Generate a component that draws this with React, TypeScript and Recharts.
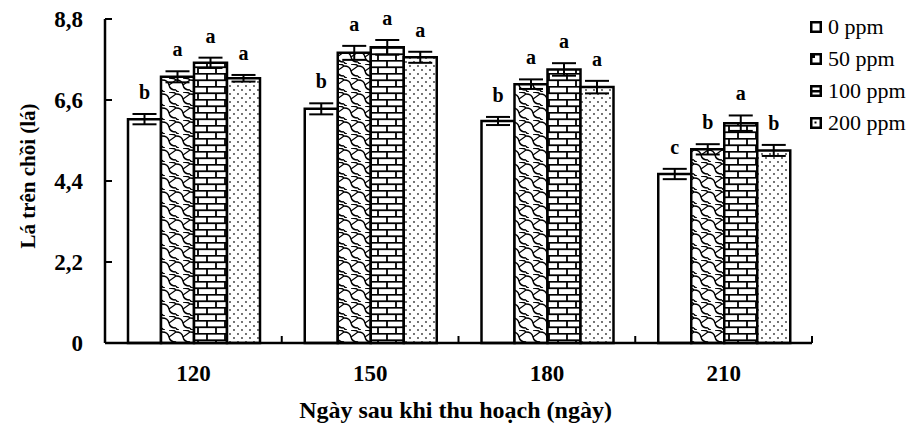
import React from 'react';
import { BarChart, Bar, XAxis, YAxis, ErrorBar, LabelList, Legend, Label } from 'recharts';

const categories = ['120', '150', '180', '210'];
const ppm0 = [6.08, 6.36, 6.03, 4.59];
const err0 = [0.14, 0.15, 0.11, 0.14];
const ppm50 = [7.23, 7.88, 7.03, 5.26];
const err50 = [0.15, 0.19, 0.13, 0.14];
const ppm100 = [7.61, 8.03, 7.43, 5.97];
const err100 = [0.14, 0.2, 0.17, 0.21];
const ppm200 = [7.19, 7.76, 6.95, 5.23];
const err200 = [0.09, 0.15, 0.17, 0.15];
const letters0 = ['b', 'b', 'b', 'c'];
const letters50 = ['a', 'a', 'a', 'b'];
const letters100 = ['a', 'a', 'a', 'a'];
const letters200 = ['a', 'a', 'a', 'b'];
const yTicks = [0, 2.2, 4.4, 6.6, 8.8];
const seriesNames = ['0 ppm', '50 ppm', '100 ppm', '200 ppm'];

const data = categories.map((c, i) => ({
  cat: c,
  p0: ppm0[i], e0: err0[i],
  p50: ppm50[i], e50: err50[i],
  p100: ppm100[i], e100: err100[i],
  p200: ppm200[i], e200: err200[i],
}));

const FONT = '"Liberation Serif", "Times New Roman", serif';
const W = 907;
const H = 418;
const M = { top: 11, right: 103, left: 0, bottom: 0 };
const Y_W = 97;
const X_H = 83;
const PLOT_W = W - M.left - M.right - Y_W;
const HALF_BAND = PLOT_W / categories.length / 2;
const Y_MARGIN = 22;
const X_MARGIN = 22;

const makeLetterLabel = (letters: string[], errs: number[]) => (props: any) => {
  const { x, y, width, height, value, index } = props;
  const pxPerUnit = value ? height / value : 0;
  const top = y - errs[index] * pxPerUnit;
  return (
    <text x={x + width / 2} y={top - 15} textAnchor="middle" fontFamily={FONT} fontWeight="bold" fontSize={20} fill="#000">
      {letters[index]}
    </text>
  );
};

const YTick = (props: any) => {
  const { x, y, payload } = props;
  const ax = x + Y_MARGIN;
  return (
    <g>
      {payload.value !== 0 && <line x1={ax} x2={ax + 7} y1={y} y2={y} stroke="#000" strokeWidth={2} />}
      <text x={x} y={y} textAnchor="end" dominantBaseline="central" fontFamily={FONT} fontWeight="bold" fontSize={23} fill="#000">
        {String(payload.value).replace('.', ',')}
      </text>
    </g>
  );
};

const XTick = (props: any) => {
  const { x, y, payload } = props;
  const ay = y - X_MARGIN;
  return (
    <g>
      <line x1={x + HALF_BAND} x2={x + HALF_BAND} y1={ay} y2={ay - 7} stroke="#000" strokeWidth={2} />
      <text x={x} y={y} dy="0.71em" textAnchor="middle" fontFamily={FONT} fontWeight="bold" fontSize={23} fill="#000">
        {payload.value}
      </text>
    </g>
  );
};

const LegendIcon = ({ i }: { i: number }) => (
  <svg width={12} height={12} style={{ display: 'block', flex: 'none' }}>
    <rect x={1.25} y={1.25} width={9.5} height={9.5} fill="#fff" stroke="#000" strokeWidth={2.5} />
    {i === 1 && <rect x={2} y={2} width={3} height={3} fill="#000" />}
    {i === 2 && <rect x={2} y={5} width={8} height={2.5} fill="#000" />}
    {i === 3 && <rect x={4.5} y={4.5} width={2} height={2} fill="#000" />}
  </svg>
);

const LegendContent = () => (
  <div style={{ fontFamily: FONT, fontSize: 22, color: '#000' }}>
    {seriesNames.map((n, i) => (
      <div key={n} style={{ display: 'flex', alignItems: 'center', height: 32, whiteSpace: 'nowrap' }}>
        <LegendIcon i={i} />
        <span style={{ marginLeft: 6 }}>{n}</span>
      </div>
    ))}
  </div>
);

export default function App() {
  return (
    <div style={{ width: W, height: H, position: 'relative' }}>
      <BarChart width={W} height={H} data={data} margin={M} barCategoryGap={23} barGap={0}>
        <defs>
          <pattern id="scales" patternUnits="userSpaceOnUse" width="14" height="14">
            <rect width="14" height="14" fill="#fff" />
            <path d="M0 2 Q6 2 7 7 Q8 12 14 12" fill="none" stroke="#000" strokeWidth="1.4" />
            <path d="M7 0 Q13 0 14 2 M0 12 Q1 14 3 14" fill="none" stroke="#000" strokeWidth="1.4" />
            <path d="M7 7 Q10 5 14 2" fill="none" stroke="#000" strokeWidth="1.2" />
          </pattern>
          <pattern id="bricks" patternUnits="userSpaceOnUse" width="18" height="13">
            <rect width="18" height="13" fill="#fff" />
            <line x1="0" x2="18" y1="0.75" y2="0.75" stroke="#000" strokeWidth="1.8" />
            <line x1="0" x2="18" y1="7.25" y2="7.25" stroke="#000" strokeWidth="1.8" />
            <line x1="1" x2="1" y1="0" y2="7" stroke="#000" strokeWidth="1.8" />
            <line x1="10" x2="10" y1="7" y2="13" stroke="#000" strokeWidth="1.8" />
          </pattern>
          <pattern id="dots" patternUnits="userSpaceOnUse" width="8" height="8">
            <rect width="8" height="8" fill="#fff" />
            <circle cx="2" cy="2" r="0.9" fill="#333" />
            <circle cx="6" cy="6" r="0.9" fill="#333" />
          </pattern>
        </defs>
        <XAxis
          dataKey="cat"
          height={X_H}
          axisLine={{ stroke: '#000', strokeWidth: 2.5 }}
          tickLine={false}
          tickSize={0}
          tickMargin={X_MARGIN}
          tick={<XTick />}
          interval={0}
        >
          <Label
            content={(p: any) => {
              const vb = p.viewBox;
              return (
                <text x={vb.x + vb.width / 2 - 3} y={vb.y + 67} textAnchor="middle" dominantBaseline="central" fontFamily={FONT} fontWeight="bold" fontSize={24} fill="#000">
                  Ngày sau khi thu hoạch (ngày)
                </text>
              );
            }}
          />
        </XAxis>
        <YAxis
          width={Y_W}
          domain={[0, 8.8]}
          ticks={yTicks}
          axisLine={{ stroke: '#000', strokeWidth: 2.5 }}
          tickLine={false}
          tickSize={0}
          tickMargin={Y_MARGIN}
          tick={<YTick />}
          interval={0}
        >
          <Label
            content={(p: any) => {
              const vb = p.viewBox;
              const cx = 20;
              const cy = vb.y + vb.height / 2 - 5;
              return (
                <text x={cx} y={cy} transform={`rotate(-90, ${cx}, ${cy})`} textAnchor="middle" dominantBaseline="central" fontFamily={FONT} fontWeight="bold" fontSize={21} fill="#000">
                  Lá trên chồi (lá)
                </text>
              );
            }}
          />
        </YAxis>
        <Legend
          layout="horizontal"
          verticalAlign="middle"
          align="center"
          content={<LegendContent />}
          wrapperStyle={{ position: 'absolute', left: 802, top: 3, width: 105 }}
        />
        <Bar dataKey="p0" name="0 ppm" fill="#fff" stroke="#000" strokeWidth={2.5} isAnimationActive={false}>
          <ErrorBar dataKey="e0" width={12} stroke="#000" strokeWidth={2} />
          <LabelList dataKey="p0" content={makeLetterLabel(letters0, err0)} />
        </Bar>
        <Bar dataKey="p50" name="50 ppm" fill="url(#scales)" stroke="#000" strokeWidth={2.5} isAnimationActive={false}>
          <ErrorBar dataKey="e50" width={12} stroke="#000" strokeWidth={2} />
          <LabelList dataKey="p50" content={makeLetterLabel(letters50, err50)} />
        </Bar>
        <Bar dataKey="p100" name="100 ppm" fill="url(#bricks)" stroke="#000" strokeWidth={2.5} isAnimationActive={false}>
          <ErrorBar dataKey="e100" width={12} stroke="#000" strokeWidth={2} />
          <LabelList dataKey="p100" content={makeLetterLabel(letters100, err100)} />
        </Bar>
        <Bar dataKey="p200" name="200 ppm" fill="url(#dots)" stroke="#000" strokeWidth={2.5} isAnimationActive={false}>
          <ErrorBar dataKey="e200" width={12} stroke="#000" strokeWidth={2} />
          <LabelList dataKey="p200" content={makeLetterLabel(letters200, err200)} />
        </Bar>
      </BarChart>
    </div>
  );
}
